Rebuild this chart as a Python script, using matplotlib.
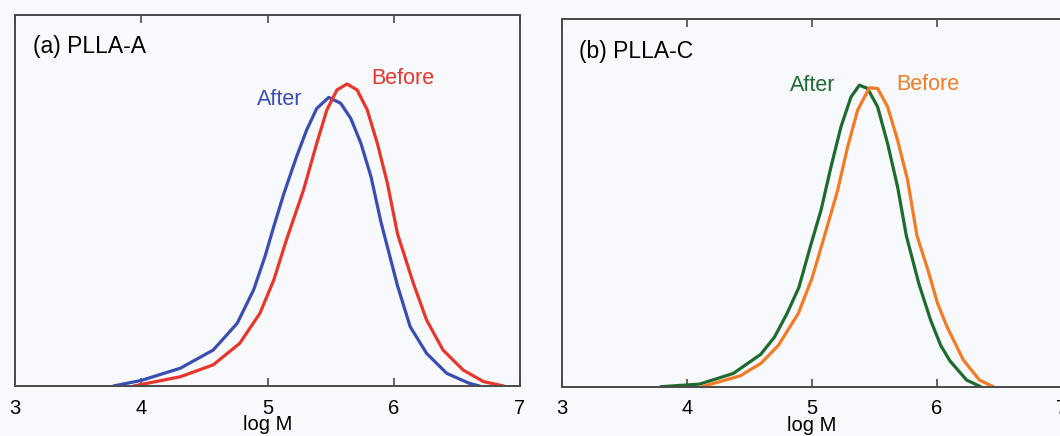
import numpy as np
import matplotlib
matplotlib.use("Agg")
import matplotlib.pyplot as plt

plt.rcParams['font.family'] = ['Liberation Sans', 'DejaVu Sans']

# GPC traces (log M, normalised height)
logm_a_before = [3.94, 4.31, 4.57, 4.78, 4.94, 5.05, 5.15, 5.285, 5.39, 5.47, 5.55, 5.63,
                 5.71, 5.79, 5.87, 5.95, 6.03, 6.155, 6.26, 6.39, 6.55, 6.71, 6.87]
h_a_before = [0.0, 0.025, 0.057, 0.115, 0.196, 0.286, 0.394, 0.528, 0.654, 0.744, 0.798, 0.814,
              0.798, 0.744, 0.654, 0.546, 0.41, 0.277, 0.178, 0.097, 0.043, 0.012, 0.0]
logm_a_after = [3.78, 4.00, 4.31, 4.57, 4.76, 4.89, 4.98, 5.05, 5.13, 5.23, 5.31, 5.39, 5.485,
                5.58, 5.66, 5.74, 5.82, 5.90, 6.03, 6.13, 6.26, 6.42, 6.60, 6.68]
h_a_after = [0.0, 0.015, 0.048, 0.097, 0.169, 0.259, 0.349, 0.43, 0.519, 0.618, 0.69, 0.748, 0.778,
             0.762, 0.721, 0.654, 0.564, 0.44, 0.27, 0.16, 0.088, 0.034, 0.007, 0.0]

logm_c_after = [3.79, 4.10, 4.37, 4.59, 4.70, 4.80, 4.895, 4.99, 5.072, 5.152, 5.232, 5.312,
                5.379, 5.445, 5.525, 5.605, 5.685, 5.755, 5.855, 5.95, 6.03, 6.104, 6.237, 6.35]
h_c_after = [0.0, 0.007, 0.036, 0.088, 0.135, 0.199, 0.27, 0.385, 0.48, 0.598, 0.707, 0.788,
             0.82, 0.811, 0.761, 0.661, 0.543, 0.41, 0.28, 0.18, 0.112, 0.07, 0.018, 0.0]
logm_c_before = [4.12, 4.43, 4.50, 4.59, 4.73, 4.89, 5.00, 5.10, 5.205, 5.285, 5.365, 5.459,
                 5.525, 5.605, 5.685, 5.765, 5.84, 5.925, 6.005, 6.08, 6.21, 6.34, 6.45]
h_c_before = [0.0, 0.03, 0.045, 0.063, 0.112, 0.199, 0.295, 0.41, 0.534, 0.652, 0.752, 0.813,
              0.811, 0.761, 0.67, 0.562, 0.41, 0.32, 0.226, 0.163, 0.073, 0.018, 0.0]

xticks = [3, 4, 5, 6, 7]

bg = '#f8f9fc'
fig = plt.figure(figsize=(10.6, 4.36), dpi=100, facecolor=bg)
W, H = 1060., 436.
ax1 = fig.add_axes([15 / W, (H - 386) / H, 505 / W, 371 / H])
ax2 = fig.add_axes([562 / W, (H - 386.7) / H, 500 / W, 367.7 / H])


def style(ax, ylab):
    ax.set_facecolor(bg)
    ax.set_xlim(3, 7)
    ax.set_ylim(0, 1)
    ax.set_xticks(xticks)
    ax.set_yticks([])
    ax.tick_params(axis='x', direction='in', top=True, length=6, width=1.2,
                   color='#4a4a4a', labelsize=14.5, pad=9)
    for s in ax.spines.values():
        s.set_color('#4a4a4a')
        s.set_linewidth(1.4)
    ax.set_xlabel('log M', fontsize=14.5)
    ax.xaxis.set_label_coords(0.5, ylab)


line_kw = dict(lw=2.3, solid_joinstyle='round', solid_capstyle='round')

style(ax1, -0.078)
ax1.plot(logm_a_after, h_a_after, color='#3a4db3', **line_kw)
ax1.plot(logm_a_before, h_a_before, color='#e8362a', **line_kw)
ax1.text(0.036, 0.898, '(a) PLLA-A', transform=ax1.transAxes, fontsize=16.5)
ax1.text(5.28, 0.757, 'After', color='#3a4db3', fontsize=15.5, ha='right')
ax1.text(5.82, 0.814, 'Before', color='#e8362a', fontsize=15.5)

style(ax2, -0.08)
ax2.plot(logm_c_after, h_c_after, color='#1e6b2f', **line_kw)
ax2.plot(logm_c_before, h_c_before, color='#f47b24', **line_kw)
ax2.text(0.034, 0.893, '(b) PLLA-C', transform=ax2.transAxes, fontsize=16.5)
ax2.text(5.184, 0.804, 'After', color='#1e6b2f', fontsize=15.5, ha='right')
ax2.text(5.67, 0.806, 'Before', color='#f47b24', fontsize=15.5)

fig.savefig('out.png', dpi=100, facecolor=bg)
